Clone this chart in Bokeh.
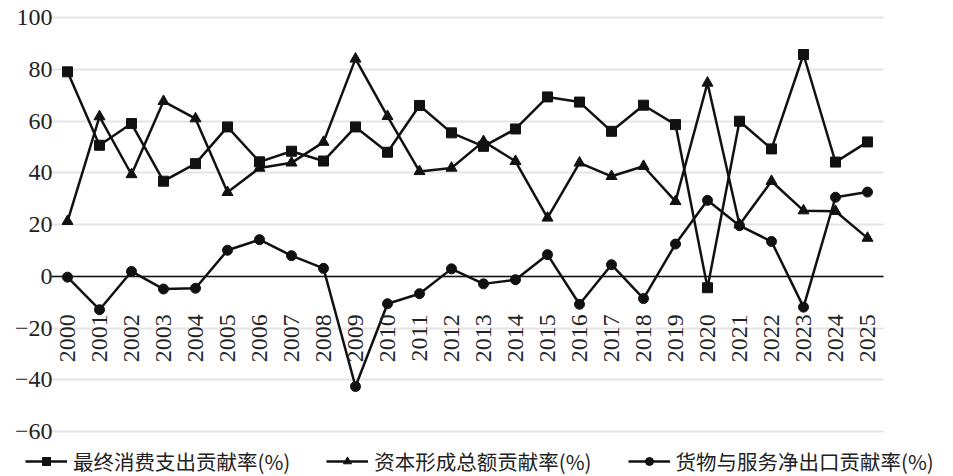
import math
from bokeh.plotting import figure
from bokeh.models import (LinearAxis, FixedTicker, Range1d, Legend, LegendItem, Grid)
from bokeh.embed import file_html
from bokeh.resources import INLINE

years = list(range(2000, 2026))
consumption = [79.1, 50.7, 59.1, 36.8, 43.6, 57.8, 44.3, 48.4, 44.6, 57.8, 48.0, 66.1, 55.5,
               50.3, 57.0, 69.4, 67.4, 56.1, 66.2, 58.7, -4.4, 60.0, 49.3, 85.8, 44.2, 52.0]
capital = [21.3, 61.8, 39.4, 67.7, 61.0, 32.5, 41.9, 43.9, 51.9, 84.1, 61.9, 40.6, 41.9,
           52.2, 44.5, 22.6, 43.9, 38.7, 42.6, 29.0, 74.8, 20.0, 36.8, 25.4, 25.2, 14.8]
net_exports = [-0.3, -12.9, 1.9, -4.9, -4.6, 10.1, 14.2, 8.0, 3.1, -42.6, -10.6, -6.7, 2.9,
               -2.9, -1.3, 8.4, -10.8, 4.5, -8.6, 12.5, 29.4, 19.6, 13.5, -11.9, 30.6, 32.6]
y_ticks = [-60, -40, -20, 0, 20, 40, 60, 80, 100]
y_tick_labels = {-60: "\u221260", -40: "\u221240", -20: "\u221220", 0: "0", 20: "20",
                 40: "40", 60: "60", 80: "80", 100: "100"}
series_names = ["最终消费支出贡献率(%)", "资本形成总额贡献率(%)", "货物与服务净出口贡献率(%)"]

# plotting window (data extent of the drawn area)
x_lo, x_hi = years[0] - 0.5, years[-1] + 0.5

W, H = 953, 476
p = figure(width=W, height=H, output_backend="svg", toolbar_location=None,
           x_axis_type=None, y_axis_type=None,
           x_range=Range1d(1997.906, 2027.6875), y_range=Range1d(-77.4, 106.69),
           min_border_left=0, min_border_right=0, min_border_top=0, min_border_bottom=0)
p.outline_line_color = None
p.background_fill_color = "white"
p.border_fill_color = "white"

# horizontal grid limited to the plotting window
grid = Grid(dimension=1, ticker=FixedTicker(ticks=y_ticks))
grid.grid_line_color = "#e4e4e4"
grid.grid_line_width = 2
grid.cross_bounds = (x_lo, x_hi)
p.add_layout(grid, "center")

# y axis placed at the left edge of the plotting window
ya = LinearAxis(ticker=FixedTicker(ticks=y_ticks), fixed_location=x_lo)
ya.major_label_overrides = y_tick_labels
ya.axis_line_color = None
ya.major_tick_line_color = None
ya.minor_tick_line_color = None
ya.major_label_text_font = "Liberation Serif"
ya.major_label_text_font_size = "24px"
ya.major_label_text_color = "#222222"
ya.major_label_standoff = -7
p.add_layout(ya, "left")

# x axis at y=0
xa = LinearAxis(ticker=FixedTicker(ticks=years), fixed_location=0, bounds=(x_lo, x_hi))
xa.axis_line_color = "#111111"
xa.axis_line_width = 1.6
xa.major_tick_line_color = None
xa.minor_tick_line_color = None
xa.major_label_orientation = math.pi / 2
xa.major_label_standoff = 32
xa.major_label_text_font = "Liberation Serif"
xa.major_label_text_font_size = "24px"
xa.major_label_text_color = "#222222"
p.add_layout(xa, "below")

col = "#111111"
l1 = p.line(years, consumption, line_color=col, line_width=2.5)
s1 = p.scatter(years, consumption, marker="square", size=10, fill_color=col, line_color=col)
l2 = p.line(years, capital, line_color=col, line_width=2.5)
s2 = p.scatter(years, capital, marker="triangle", size=11, fill_color=col, line_color=col)
l3 = p.line(years, net_exports, line_color=col, line_width=2.5)
s3 = p.scatter(years, net_exports, marker="circle", size=10, fill_color=col, line_color=col)

legend = Legend(items=[LegendItem(label=series_names[0], renderers=[l1, s1]),
                       LegendItem(label=series_names[1], renderers=[l2, s2]),
                       LegendItem(label=series_names[2], renderers=[l3, s3])],
                orientation="horizontal", location=(25, 0))
legend.padding = 0
legend.margin = 0
legend.spacing = 36
legend.glyph_width = 42
legend.glyph_height = 20
legend.label_height = 20
legend.label_standoff = 6
legend.label_text_font = "Noto Sans CJK SC"
legend.label_text_font_size = "20.5px"
legend.label_text_color = "#222222"
legend.background_fill_alpha = 0
legend.border_line_color = None
p.add_layout(legend, "center")

open("out.html", "w").write(file_html(p, INLINE))
